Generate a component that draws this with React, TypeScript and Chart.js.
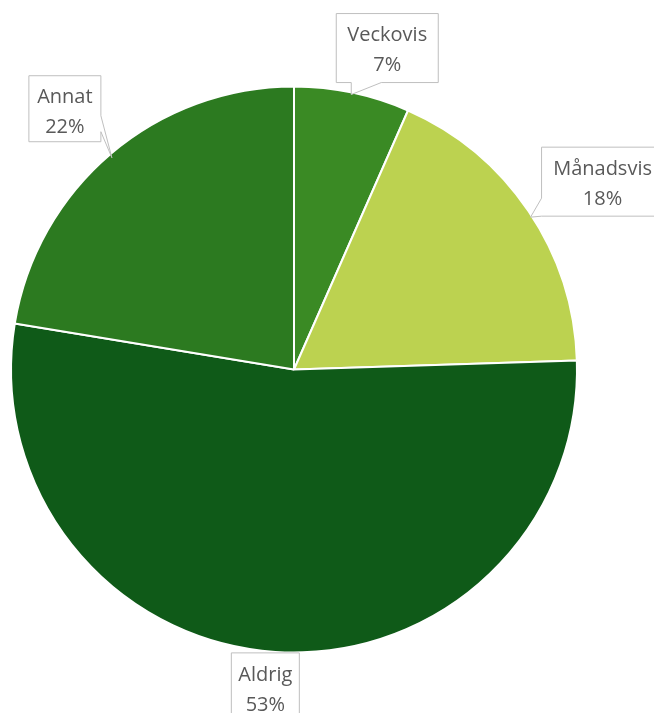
import React, { useEffect, useRef } from "react";
import { Chart, registerables } from "chart.js";

Chart.register(...registerables);

const categories = ["Veckovis", "Månadsvis", "Aldrig", "Annat"];
const values = [6.6, 17.9, 53.1, 22.4];
const percentLabels = ["7%", "18%", "53%", "22%"];
const colors = ["#3a8a24", "#bcd250", "#0f5a18", "#2c7a20"];

// callout geometry per slice: box (relative to arc mid-point on the rim), pointer side
type Callout = { dx: number; dy: number; w: number; h: number; pointer: "bottom" | "left" | "right" | "none" };
const callouts: Callout[] = [
  { dx: -16, dy: -79, w: 102, h: 69, pointer: "bottom" },
  { dx: 13, dy: -64, w: 130, h: 69, pointer: "left" },
  { dx: -44, dy: 1, w: 68, h: 70, pointer: "none" },
  { dx: -82, dy: -78, w: 72, h: 66, pointer: "right" },
];

const calloutPlugin = {
  id: "callouts",
  afterDraw(chart: any) {
    const ctx = chart.ctx as CanvasRenderingContext2D;
    const meta = chart.getDatasetMeta(0);
    meta.data.forEach((arc: any, i: number) => {
      const { x, y, startAngle, endAngle, outerRadius } = arc.getProps(
        ["x", "y", "startAngle", "endAngle", "outerRadius"],
        true
      );
      const mid = (startAngle + endAngle) / 2;
      const px = x + Math.cos(mid) * outerRadius;
      const py = y + Math.sin(mid) * outerRadius;
      const c = callouts[i];
      const bx = px + c.dx;
      const by = py + c.dy;
      const bw = c.w;
      const bh = c.h;
      ctx.save();
      ctx.beginPath();
      if (c.pointer === "bottom") {
        ctx.moveTo(bx, by);
        ctx.lineTo(bx + bw, by);
        ctx.lineTo(bx + bw, by + bh);
        ctx.lineTo(bx + 45, by + bh);
        ctx.lineTo(px - 1, py + 2);
        ctx.lineTo(bx + 15, by + bh);
        ctx.lineTo(bx, by + bh);
        ctx.closePath();
      } else if (c.pointer === "left") {
        ctx.moveTo(bx, by);
        ctx.lineTo(bx + bw, by);
        ctx.lineTo(bx + bw, by + bh);
        ctx.lineTo(bx, by + bh);
        ctx.lineTo(px + 2, py + 6);
        ctx.lineTo(bx, by + bh - 18);
        ctx.closePath();
      } else if (c.pointer === "right") {
        ctx.moveTo(bx, by);
        ctx.lineTo(bx + bw, by);
        ctx.lineTo(bx + bw, by + bh - 26);
        ctx.lineTo(px + 1, py + 4);
        ctx.lineTo(bx + bw, by + bh - 10);
        ctx.lineTo(bx + bw, by + bh);
        ctx.lineTo(bx, by + bh);
        ctx.closePath();
      } else {
        ctx.rect(bx, by, bw, bh);
      }
      ctx.fillStyle = "#ffffff";
      ctx.fill();
      ctx.strokeStyle = "#bfbfbf";
      ctx.lineWidth = 1;
      ctx.stroke();
      ctx.fillStyle = "#595959";
      ctx.font = "20px 'Open Sans', sans-serif";
      ctx.textAlign = "center";
      ctx.textBaseline = "middle";
      const cx = bx + bw / 2 + (c.pointer === "left" ? -4 : 0);
      ctx.fillText(categories[i], cx, by + 22);
      ctx.fillText(percentLabels[i], cx, by + 52);
      ctx.restore();
    });
  },
};

export default function App() {
  const ref = useRef<HTMLCanvasElement | null>(null);
  useEffect(() => {
    if (!ref.current) return;
    const chart = new Chart(ref.current, {
      type: "pie",
      data: {
        labels: categories,
        datasets: [
          {
            data: values,
            backgroundColor: colors,
            borderColor: "#ffffff",
            borderWidth: 2,
          },
        ],
      },
      options: {
        animation: false,
        responsive: false,
        maintainAspectRatio: false,
        layout: { padding: { left: 10, top: 84, right: 76, bottom: 58 } },
        plugins: {
          legend: { display: false },
          tooltip: { enabled: false },
          title: { display: false },
        },
      },
      plugins: [calloutPlugin],
    });
    return () => chart.destroy();
  }, []);
  return (
    <div style={{ position: "fixed", left: 0, top: 0, width: 654, height: 713, background: "#fff" }}>
      <canvas ref={ref} width={654} height={713} style={{ width: 654, height: 713 }} />
    </div>
  );
}
